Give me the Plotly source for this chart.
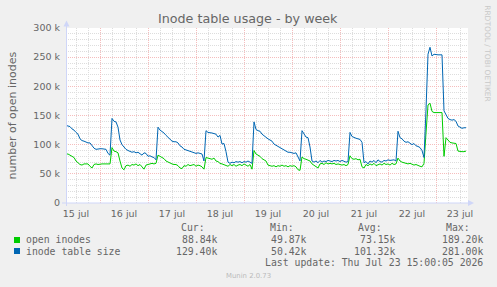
import plotly.graph_objects as go
import pandas as pd

# ---------------- data (values in thousands, hourly samples) ----------------
start_time = "2026-07-15 07:00"

open_inodes = [
    84, 84, 82, 80, 78, 72, 69, 66, 65, 67,
    67, 67, 63, 60, 66, 67, 66, 67, 67, 67,
    67, 67, 67, 95, 89, 88, 86, 72, 60, 57,
    64, 65, 63, 66, 65, 67, 64, 66, 62, 58,
    65, 66, 67, 68, 67, 68, 82, 80, 78, 76,
    72, 70, 68, 67, 66, 66, 64, 60, 59, 64,
    63, 66, 64, 65, 66, 63, 65, 64, 62, 58,
    78, 77, 76, 75, 77, 72, 71, 68, 67, 66,
    64, 63, 66, 64, 66, 63, 65, 66, 64, 67,
    65, 63, 66, 58, 90, 84, 82, 80, 76, 74,
    72, 65, 64, 63, 64, 62, 64, 63, 65, 63,
    64, 62, 64, 63, 64, 62, 57, 56, 79, 76,
    75, 74, 72, 67, 65, 62, 60, 67, 68, 66,
    69, 67, 68, 67, 68, 66, 67, 66, 65, 66,
    64, 66, 81, 76, 75, 76, 74, 75, 62, 60,
    66, 64, 67, 65, 68, 64, 66, 67, 65, 68,
    66, 67, 65, 68, 66, 67, 77, 72, 70, 69,
    68, 67, 68, 66, 65, 66, 64, 63, 62, 68,
    120, 168, 171, 157, 155, 155, 155, 155, 155, 80,
    112, 108, 104, 103, 103, 102, 89, 88, 88, 88,
    89,
]

inode_table_size = [
    133, 132, 131, 127, 125, 121, 118, 110, 107, 106,
    104, 103, 103, 98, 94, 92, 93, 93, 93, 93,
    92, 85, 82, 145, 140, 139, 130, 108, 100, 96,
    92, 90, 88, 87, 88, 86, 87, 85, 82, 86,
    85, 80, 81, 79, 78, 74, 130, 125, 123, 120,
    116, 113, 110, 106, 105, 105, 103, 98, 96, 92,
    91, 90, 88, 87, 87, 85, 86, 85, 84, 72,
    124, 121, 121, 120, 119, 118, 113, 116, 101, 102,
    88, 70, 68, 70, 69, 71, 70, 71, 69, 71,
    70, 72, 70, 68, 139, 126, 124, 123, 118, 115,
    113, 110, 108, 106, 101, 99, 97, 95, 92, 90,
    89, 87, 87, 86, 85, 86, 80, 72, 124, 119,
    113, 112, 96, 72, 70, 72, 69, 73, 70, 72,
    71, 73, 72, 71, 73, 72, 73, 71, 73, 72,
    70, 71, 121, 114, 112, 111, 110, 109, 104, 69,
    71, 67, 72, 70, 73, 69, 74, 71, 70, 73,
    72, 74, 73, 74, 74, 72, 123, 112, 110, 106,
    104, 105, 102, 100, 102, 98, 97, 95, 90, 78,
    160, 255, 267, 252, 255, 254, 254, 254, 254, 158,
    150, 145, 143, 142, 143, 140, 132, 130, 128, 129,
    129,
]

times = pd.date_range(start_time, periods=len(inode_table_size), freq="h")

x_range = ["2026-07-15 07:00", "2026-07-23 16:00"]
y_tickvals = [0, 50, 100, 150, 200, 250, 300]
y_ticktext = ["0", "50 k", "100 k", "150 k", "200 k", "250 k", "300 k"]
day_alias = {f"{d} Jul": f"{d} jul" for d in range(15, 24)}

series_names = ["open inodes", "inode table size"]
series_colors = ["#00CC00", "#0066B3"]
stat_headers = ["Cur:", "Min:", "Avg:", "Max:"]
stat_values = [
    ["88.84k", "49.87k", "73.15k", "189.20k"],
    ["129.40k", "50.42k", "101.32k", "281.00k"],
]
title_text = "Inode table usage - by week"
y_title = "number of open inodes"
last_update = "Last update: Thu Jul 23 15:00:05 2026"
footer = "Munin 2.0.73"
side_text = "RRDTOOL / TOBI OETIKER"

# ---------------- layout helpers ----------------
W, H = 497, 287
L, R, T, B = 66, 29, 28, 84
PW, PH = W - L - R, H - T - B


def px(x):
    return (x - L) / PW


def py(y):
    return (H - B - y) / PH


TXT = "#666666"
AXC = "#CFD6F8"
MAJ = "#F5BDBD"
MIN = "#DDDDDD"
SANS = "DejaVu Sans"
MONO = "DejaVu Sans Mono"

fig = go.Figure()
for name, vals, col in zip(series_names, [open_inodes, inode_table_size], series_colors):
    fig.add_trace(go.Scatter(x=times, y=vals, mode="lines", name=name,
                             line=dict(color=col, width=1), showlegend=False,
                             hoverinfo="skip"))

fig.update_layout(
    width=W, height=H,
    margin=dict(l=L, r=R, t=T, b=B, pad=0),
    paper_bgcolor="#F0F0F0", plot_bgcolor="#FFFFFF",
    showlegend=False,
    font=dict(family=SANS, color=TXT, size=9.5),
)

fig.update_xaxes(
    type="date", range=x_range, autorange=False,
    tick0="2026-07-15 00:00", dtick=86400000,
    ticklabelmode="period", tickformat="%d %b", labelalias=day_alias,
    ticks="", showline=False, zeroline=False,
    showgrid=True, gridcolor=MAJ, griddash="1px,1px", gridwidth=1,
    minor=dict(tick0="2026-07-15 00:00", dtick=21600000, showgrid=True,
               gridcolor=MIN, griddash="1px,1px", gridwidth=1),
    tickfont=dict(family=SANS, size=9.5, color=TXT),
    ticklabelstandoff=3,
)
fig.update_yaxes(
    range=[0, 300], autorange=False,
    tickmode="array", tickvals=y_tickvals, ticktext=y_ticktext,
    ticks="", showline=False, zeroline=False,
    showgrid=True, gridcolor=MAJ, griddash="1px,1px", gridwidth=1,
    minor=dict(tickmode="linear", tick0=0, dtick=10, showgrid=True,
               gridcolor=MIN, griddash="1px,1px", gridwidth=1),
    tickfont=dict(family=SANS, size=9.5, color=TXT),
    ticklabelstandoff=5,
)

shapes = []
# axis lines + arrows
shapes.append(dict(type="line", xref="paper", yref="paper",
                   x0=px(66.5), x1=px(66.5), y0=py(206), y1=py(24),
                   line=dict(color=AXC, width=1)))
shapes.append(dict(type="line", xref="paper", yref="paper",
                   x0=px(62), x1=px(469), y0=py(203), y1=py(203),
                   line=dict(color=AXC, width=1)))
shapes.append(dict(type="path", xref="paper", yref="paper",
                   path=f"M {px(63.5)} {py(26.5)} L {px(69.5)} {py(26.5)} L {px(66.5)} {py(20.5)} Z",
                   fillcolor=AXC, line=dict(color=AXC, width=0)))
shapes.append(dict(type="path", xref="paper", yref="paper",
                   path=f"M {px(468)} {py(200)} L {px(468)} {py(206)} L {px(474)} {py(203)} Z",
                   fillcolor=AXC, line=dict(color=AXC, width=0)))
# legend squares
for col, yc in zip(series_colors, [240, 251]):
    shapes.append(dict(type="rect", xref="paper", yref="paper",
                       x0=px(14), x1=px(20), y0=py(yc - 3), y1=py(yc + 3),
                       fillcolor=col, line=dict(width=0)))

ann = []


def text(x, y, s, size, color=TXT, family=SANS, xanchor="center", angle=0):
    ann.append(dict(x=px(x), y=py(y), xref="paper", yref="paper", text=s,
                    showarrow=False, xanchor=xanchor, yanchor="middle",
                    font=dict(family=family, size=size, color=color),
                    borderpad=0, borderwidth=0, textangle=angle))


text(248, 18.5, title_text, 12.7)
text(11.5, 116, y_title, 11, angle=-90)
text(487.3, 53.5, side_text, 7.5, color="#C8C8C8", angle=90)

header_right = [205, 293.5, 381.5, 470]
value_right = [217, 306, 394.5, 482.5]
for hx, h in zip(header_right, stat_headers):
    text(hx, 227.5, h, 9.8, family=MONO, xanchor="right")
for row_y, name, vals in zip([239.5, 251], series_names, stat_values):
    text(26, row_y, name, 9.8, family=MONO, xanchor="left")
    for vx, v in zip(value_right, vals):
        text(vx, row_y, v, 9.8, family=MONO, xanchor="right")
text(482.5, 262.5, last_update, 9.8, family=MONO, xanchor="right")
text(248, 276, footer, 6.9, color="#BBBBBB")

fig.update_layout(shapes=shapes, annotations=ann)
fig.write_html("out.html")
